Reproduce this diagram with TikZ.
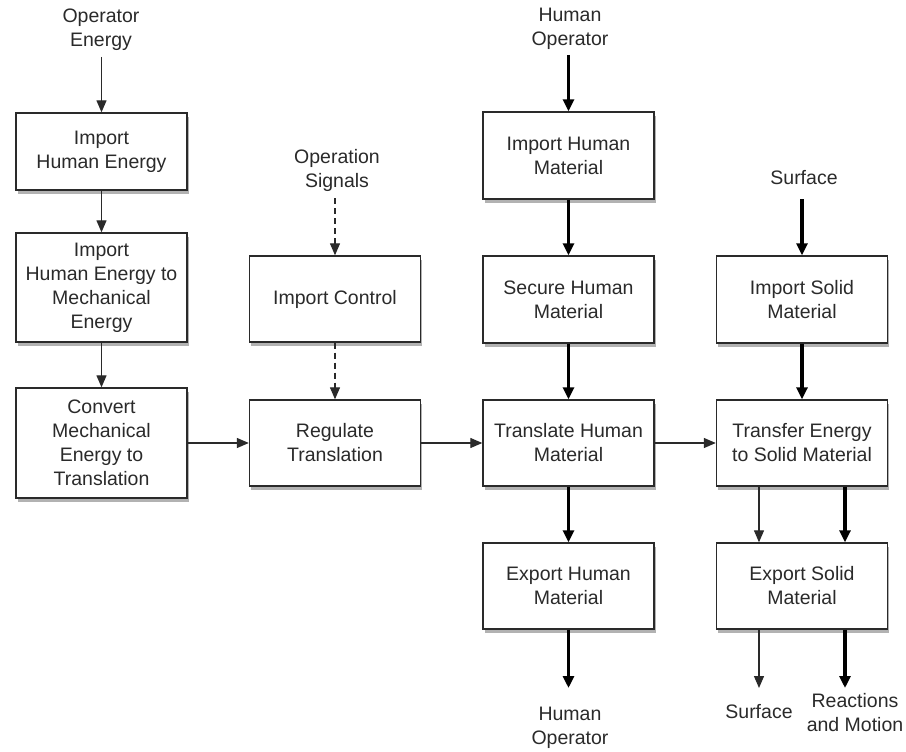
\documentclass[tikz,border=0pt]{standalone}
\usepackage{fontspec}
\setmainfont{Liberation Sans}
\usetikzlibrary{arrows.meta,shadows}
\definecolor{ink}{HTML}{2A2A2A}
\tikzset{
  box/.style={draw=ink, line width=1.4pt, fill=white, minimum width=171pt, align=center,
    font=\fontsize{19.5}{24}\selectfont, text=ink,
    drop shadow={shadow xshift=1.5pt, shadow yshift=-4pt, opacity=0.3, fill=black}},
  lbl/.style={align=center, font=\fontsize{19.5}{24}\selectfont, text=ink, inner sep=0pt},
  thin/.style={draw=ink, line width=1.3pt, -{Triangle[length=12pt,width=10pt]}},
  thick/.style={draw=black, line width=3.4pt, -{Triangle[length=12pt,width=11pt]}},
  dsh/.style={draw=ink, line width=1.3pt, dash pattern=on 6pt off 4pt, -{Triangle[length=12pt,width=10pt]}}
}
\begin{document}
\begin{tikzpicture}[x=1pt,y=-1pt]
\useasboundingbox[fill=white] (0,0) rectangle (906,752);
% column 1
\node[box, minimum height=77pt] (b1) at (101.5,151.5) {Import\\Human Energy};
\node[box, minimum height=109pt] (b2) at (101.5,287.5) {Import\\Human Energy to\\Mechanical\\Energy};
\node[box, minimum height=110pt] (b3) at (101.5,443) {Convert\\Mechanical\\Energy to\\Translation};
% column 2
\node[box, minimum height=86pt] (ic) at (335,299) {Import Control};
\node[box, minimum height=86pt] (rt) at (335,443) {Regulate\\Translation};
% column 3
\node[box, minimum height=87pt] (ihm) at (568.5,155.5) {Import Human\\Material};
\node[box, minimum height=87pt] (shm) at (568.5,299.5) {Secure Human\\Material};
\node[box, minimum height=86pt] (thm) at (568.5,443) {Translate Human\\Material};
\node[box, minimum height=86pt] (ehm) at (568.5,586) {Export Human\\Material};
% column 4
\node[box, minimum height=87pt] (ism) at (802,299.5) {Import Solid\\Material};
\node[box, minimum height=86pt] (tes) at (802,443) {Transfer Energy\\to Solid Material};
\node[box, minimum height=86pt] (esm) at (802,586) {Export Solid\\Material};
% labels
\node[lbl] (loe) at (101,29.5) {Operator\\Energy};
\node[lbl] (lhot) at (570,28.5) {Human\\Operator};
\node[lbl] (los) at (337,170) {Operation\\Signals};
\node[lbl] (lsu) at (804,178) {Surface};
\node[lbl] (lhob) at (570,728) {Human\\Operator};
\node[lbl] (lsb) at (759,712) {Surface};
\node[lbl] (lrm) at (855,713) {Reactions\\and Motion};
% coordinates
\coordinate (c1) at (101.5,57);
\coordinate (c2) at (568.5,55);
\coordinate (c3) at (335,198);
\coordinate (c4) at (802,199);
\coordinate (d1) at (568.5,688);
\coordinate (d2) at (759,688);
\coordinate (d3) at (845,688);
% connectors
\draw[thin] (c1) -- (b1.north);
\draw[thin] (b1) -- (b2);
\draw[thin] (b2) -- (b3);
\draw[thin] (b3) -- (rt);
\draw[thin] (rt) -- (thm);
\draw[thin] (thm) -- (tes);
\draw[dsh] (c3) -- (ic.north);
\draw[dsh] (ic) -- (rt);
\draw[thick] (c2) -- (ihm.north);
\draw[thick] (ihm) -- (shm);
\draw[thick] (shm) -- (thm);
\draw[thick] (thm) -- (ehm);
\draw[thick] (ehm.south) -- (d1);
\draw[thick] (c4) -- (ism.north);
\draw[thick] (ism) -- (tes);
\draw[thin] (tes.south -| d2) -- (esm.north -| d2);
\draw[thick] (tes.south -| d3) -- (esm.north -| d3);
\draw[thin] (esm.south -| d2) -- (d2);
\draw[thick] (esm.south -| d3) -- (d3);
\end{tikzpicture}
\end{document}
